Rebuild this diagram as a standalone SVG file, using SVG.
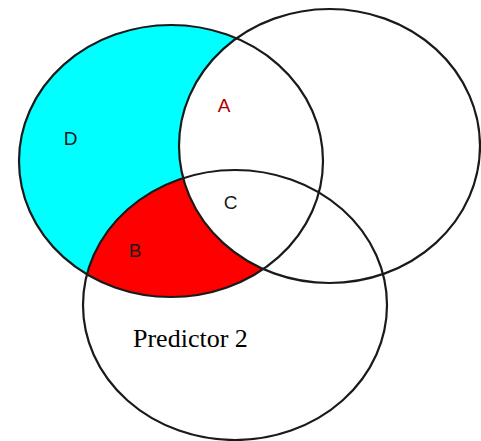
<svg xmlns="http://www.w3.org/2000/svg" width="481" height="441" viewBox="0 0 481 441">
  <style>
    .ring { fill: none; stroke: #1a1a1a; stroke-width: 2.2; }
    .lbl { font-family: "Liberation Sans", Arial, sans-serif; font-size: 19px; text-anchor: middle; fill: #1a1a1a; }
    .cap { font-family: "Liberation Serif", "Times New Roman", serif; font-size: 26px; fill: #000; }
  </style>
  <defs>
    <clipPath id="clipLeft">
      <ellipse cx="171" cy="161" rx="152" ry="136"/>
    </clipPath>
  </defs>
  <rect width="481" height="441" fill="#ffffff"/>
  <g id="fills">
    <ellipse cx="171" cy="161" rx="152" ry="136" fill="#00ffff"/>
    <ellipse cx="235" cy="305" rx="152" ry="135" fill="#ff0000" clip-path="url(#clipLeft)"/>
    <ellipse cx="329.5" cy="146" rx="150.5" ry="137" fill="#ffffff"/>
  </g>
  <g id="circles">
    <ellipse id="left-circle" class="ring" cx="171" cy="161" rx="152" ry="136"/>
    <ellipse id="right-circle" class="ring" cx="329.5" cy="146" rx="150.5" ry="137"/>
    <ellipse id="bottom-circle" class="ring" cx="235" cy="305" rx="152" ry="135"/>
  </g>
  <g id="labels">
    <text class="lbl" x="70.5" y="145">D</text>
    <text class="lbl" x="224" y="112" fill="#b00000" style="fill:#b00000">A</text>
    <text class="lbl" x="230.5" y="209">C</text>
    <text class="lbl" x="135" y="257">B</text>
    <text class="cap" x="133" y="347">Predictor 2</text>
  </g>
</svg>
